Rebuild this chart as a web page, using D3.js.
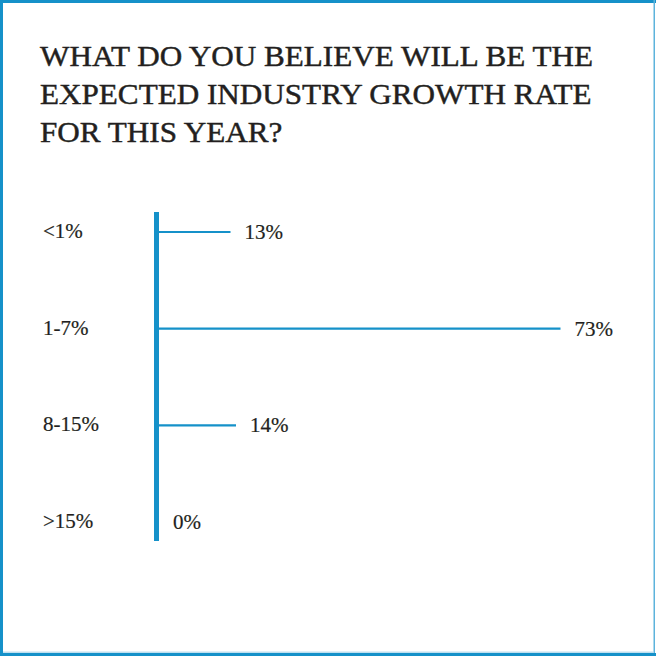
<!DOCTYPE html>
<html>
<head>
<meta charset="utf-8">
<script src="https://cdn.jsdelivr.net/npm/d3@7"></script>
<style>
  html, body { margin: 0; padding: 0; background: #fff; }
  svg { display: block; }
</style>
</head>
<body>
<svg id="chart" width="656" height="656"></svg>
<script>
// Survey answers: expected industry growth rate
const titleLines = [
  "WHAT DO YOU BELIEVE WILL BE THE",
  "EXPECTED INDUSTRY GROWTH RATE",
  "FOR THIS YEAR?"
];
const categories = ["<1%", "1-7%", "8-15%", ">15%"];
const values = [13, 73, 14, 0];

const blue = "#1591c9";
const ink = "#231f20";
const serif = "'Liberation Serif', 'DejaVu Serif', serif";

const svg = d3.select("#chart");
const W = 656, H = 656;

// frame
const frame = svg.append("g");
frame.append("rect").attr("x", 0).attr("y", 0).attr("width", W).attr("height", 3).attr("fill", blue);
frame.append("rect").attr("x", 0).attr("y", 0).attr("width", 3).attr("height", H).attr("fill", blue);
frame.append("rect").attr("x", 653.5).attr("y", 0).attr("width", 1.5).attr("height", H).attr("fill", "#5db3dc");
frame.append("rect").attr("x", 0).attr("y", 653).attr("width", W).attr("height", 3).attr("fill", blue);
frame.append("rect").attr("x", 3).attr("y", 651.5).attr("width", 650).attr("height", 1.5).attr("fill", "#bfe0f0");

// title: condensed to a fixed measure
const title = svg.append("g");
const titleBaselines = [66, 104, 142];
const titleSize = 30;
const measure = 553;
const titleNodes = titleLines.map((t, i) => title.append("text")
  .attr("x", 40)
  .attr("y", titleBaselines[i])
  .attr("font-family", serif)
  .attr("font-size", titleSize)
  .attr("fill", ink)
  .attr("stroke", ink)
  .attr("stroke-width", 0.45)
  .text(t).node());
const ratio = measure / titleNodes[0].getComputedTextLength();
titleNodes.forEach(n => {
  d3.select(n)
    .attr("textLength", n.getComputedTextLength() * ratio)
    .attr("lengthAdjust", "spacingAndGlyphs");
});

// scales
const x = d3.scaleLinear().domain([0, 100]).range([159, 709]);
const y = d3.scalePoint().domain(categories).range([232, 522]);

const plot = svg.append("g");

// horizontal bars
plot.selectAll("line.bar")
  .data(values)
  .join("line")
  .attr("class", "bar")
  .attr("x1", x(0))
  .attr("x2", d => x(d))
  .attr("y1", (d, i) => y(categories[i]))
  .attr("y2", (d, i) => y(categories[i]))
  .attr("stroke", blue)
  .attr("stroke-width", 2.2);

// vertical axis spine
plot.append("line")
  .attr("x1", x(0) - 2.5)
  .attr("x2", x(0) - 2.5)
  .attr("y1", y(categories[0]) - 20)
  .attr("y2", y(categories[categories.length - 1]) + 19)
  .attr("stroke", blue)
  .attr("stroke-width", 5);

// category labels
plot.selectAll("text.cat")
  .data(categories)
  .join("text")
  .attr("class", "cat")
  .attr("x", 43)
  .attr("y", d => y(d) + 6)
  .attr("font-family", serif)
  .attr("font-size", 21)
  .attr("fill", ink)
  .attr("stroke", ink)
  .attr("stroke-width", 0.2)
  .text(d => d);

// value labels
plot.selectAll("text.val")
  .data(values)
  .join("text")
  .attr("class", "val")
  .attr("x", d => x(d) + 14)
  .attr("y", (d, i) => y(categories[i]) + 7)
  .attr("font-family", serif)
  .attr("font-size", 21)
  .attr("fill", ink)
  .attr("stroke", ink)
  .attr("stroke-width", 0.2)
  .text(d => d + "%");
</script>
</body>
</html>
